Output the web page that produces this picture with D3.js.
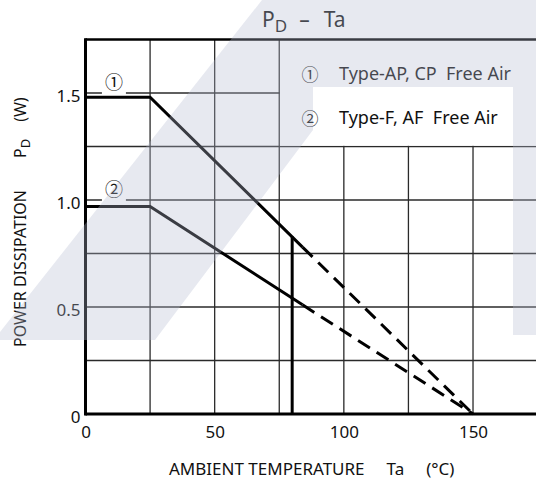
<!DOCTYPE html>
<html><head><meta charset="utf-8">
<script src="https://cdn.jsdelivr.net/npm/d3@7"></script>
<style>
html,body{margin:0;padding:0;background:#fff;}
svg{display:block;}
text{font-family:"Noto Sans","DejaVu Sans",sans-serif;fill:#111;}
.circ{font-family:"Noto Sans CJK KR","Noto Sans",sans-serif;}
</style></head><body>
<svg id="chart" width="536" height="482"></svg>
<script>
// ---- data ----
const xTickValues = [0, 50, 100, 150];
const yTickValues = [0, 0.5, 1.0, 1.5];
const xGridValues = [25, 50, 75, 100, 125, 150, 175];
const yGridValues = [0.25, 0.5, 0.75, 1.0, 1.25, 1.5];
const apSolid  = [[0, 1.48], [25, 1.48], [84, 0.78]];
const apDashed = [[84, 0.78], [150, 0]];
const fSolid   = [[0, 0.97], [25, 0.97], [84, 0.51]];
const fDashed  = [[84, 0.51], [150, 0]];
const cutoffLine = [[80, 0], [80, 0.83]];
const curveMarks = [{mark: "①", x: 11, y: 1.5}, {mark: "②", x: 11, y: 1.0}];
const legendMarks = ["①", "②"];
const legendLabels = ["Type-AP, CP  Free Air", "Type-F, AF  Free Air"];

// ---- setup ----
const svg = d3.select("#chart");
const W = 536, H = 482;
const x = d3.scaleLinear().domain([0, 175]).range([85.5, 537.6]);
const y = d3.scaleLinear().domain([0, 1.75]).range([414, 39.5]);

// grid
const g = svg.append("g");
g.selectAll(".vg").data(xGridValues).join("line")
  .attr("x1", d => x(d)).attr("x2", d => x(d))
  .attr("y1", y(0)).attr("y2", y(1.75))
  .attr("stroke", "#2a2a2a").attr("stroke-width", 1.3);
g.selectAll(".hg").data(yGridValues).join("line")
  .attr("x1", x(0)).attr("x2", x(175))
  .attr("y1", d => y(d)).attr("y2", d => y(d))
  .attr("stroke", "#2a2a2a").attr("stroke-width", 1.3);

// legend box (clears grid)
g.append("rect")
  .attr("x", x(75) + 0.7).attr("y", y(1.75))
  .attr("width", W - x(75)).attr("height", y(1.25) - y(1.75) - 0.7)
  .attr("fill", "#fff");

// curve marks with gaps in grid
curveMarks.forEach(c => {
  g.append("rect").attr("x", x(c.x) - 12).attr("y", y(c.y) - 2)
    .attr("width", 24).attr("height", 4).attr("fill", "#fff");
  g.append("text").attr("class", "circ").attr("x", x(c.x)).attr("y", y(c.y) - 12)
    .attr("text-anchor", "middle").attr("dominant-baseline", "central")
    .style("font-size", "18px").text(c.mark);
});

// curves
const line = d3.line().x(d => x(d[0])).y(d => y(d[1]));
[apSolid, fSolid].forEach(s => g.append("path").attr("d", line(s))
  .attr("fill", "none").attr("stroke", "#000").attr("stroke-width", 3));
[apDashed, fDashed].forEach(s => g.append("path").attr("d", line(s))
  .attr("fill", "none").attr("stroke", "#000").attr("stroke-width", 3)
  .attr("stroke-dasharray", "14,8"));
g.append("path").attr("d", line(cutoffLine))
  .attr("fill", "none").attr("stroke", "#000").attr("stroke-width", 3);

// axes frame
g.append("line").attr("x1", x(0)).attr("x2", x(0)).attr("y1", y(0) + 1.5).attr("y2", y(1.75) - 1.2)
  .attr("stroke", "#000").attr("stroke-width", 3);
g.append("line").attr("x1", x(0)).attr("x2", W).attr("y1", y(0)).attr("y2", y(0))
  .attr("stroke", "#000").attr("stroke-width", 3);
g.append("line").attr("x1", x(0)).attr("x2", W).attr("y1", y(1.75)).attr("y2", y(1.75))
  .attr("stroke", "#000").attr("stroke-width", 2.5);

// tick labels
const xAxis = d3.axisBottom(x).tickValues(xTickValues).tickSize(0).tickPadding(0);
const xa = svg.append("g").attr("transform", `translate(0,${y(0) + 18})`).call(xAxis);
xa.select(".domain").remove();
xa.selectAll("text").attr("dy", "0.35em").attr("y", 0)
  .style("font-size", "17px").style("font-family", "\"Noto Sans\",sans-serif").attr("fill", "#111");

const yAxis = d3.axisLeft(y).tickValues(yTickValues).tickSize(0).tickPadding(0)
  .tickFormat(d => d === 0 ? "0" : d3.format(".1f")(d));
const ya = svg.append("g").attr("transform", `translate(${x(0) - 5},3)`).call(yAxis);
ya.select(".domain").remove();
ya.selectAll("text").style("font-size", "17px").style("font-family", "\"Noto Sans\",sans-serif").attr("fill", "#111");

// legend
legendLabels.forEach((t, i) => {
  const cy = 73 + i * 44;
  svg.append("text").attr("class", "circ").attr("x", 310).attr("y", cy).attr("text-anchor", "middle")
    .attr("dominant-baseline", "central").style("font-size", "17px").text(legendMarks[i]);
  svg.append("text").attr("x", 339).attr("y", cy).attr("dominant-baseline", "central")
    .style("font-size", "18px").style("white-space", "pre").text(t);
});

// title
const title = svg.append("text").attr("x", 262).attr("y", 27).style("font-size", "21px");
title.append("tspan").text("P");
title.append("tspan").attr("dy", 5).style("font-size", "17px").text("D");
title.append("tspan").attr("dy", -5).attr("dx", 12).text("–");
title.append("tspan").attr("dx", 15).text("Ta");

// axis titles
const xt = svg.append("text").attr("x", 169).attr("y", 475).style("font-size", "17px").style("white-space", "pre");
xt.append("tspan").text("AMBIENT TEMPERATURE");
xt.append("tspan").attr("dx", 22).text("Ta");
xt.append("tspan").attr("dx", 22).text("(°C)");

const yt = svg.append("text").attr("transform", "translate(26,347) rotate(-90)").style("font-size", "16px").style("white-space", "pre");
yt.append("tspan").text("POWER DISSIPATION");
yt.append("tspan").attr("dx", 32).text("P");
yt.append("tspan").attr("dy", 4).style("font-size", "13px").text("D");
yt.append("tspan").attr("dy", -4).attr("dx", 17).text("(W)");

// watermark overlay
const wm = svg.append("g").attr("fill", "#b3bbcf").attr("opacity", 0.32).style("pointer-events", "none");
wm.append("path").attr("d", "M0,332 L262,0 L536,0 L536,335 L513,335 L513,87 L313,87 L313,130 L155,340 L0,340 Z");
</script></body></html>
